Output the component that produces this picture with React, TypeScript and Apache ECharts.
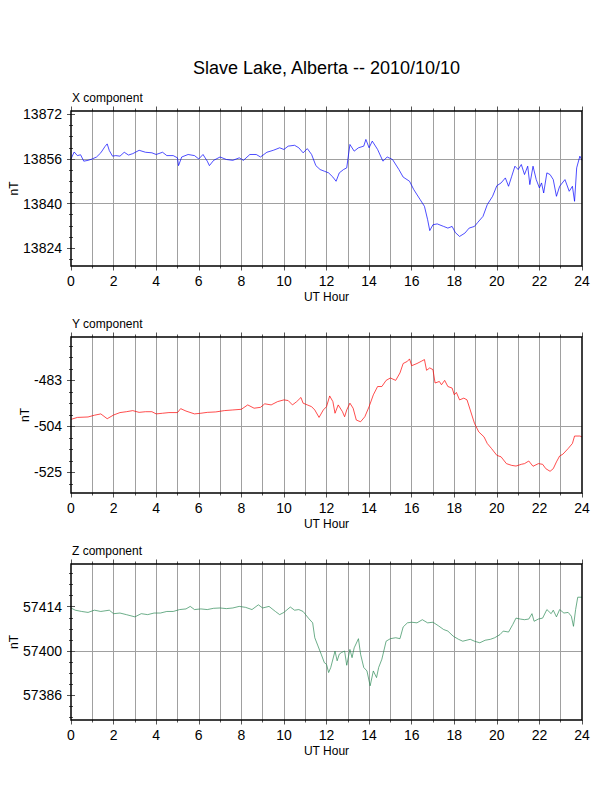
import React, { useEffect, useRef } from 'react';
import * as echarts from 'echarts';

const FONT = "'Liberation Sans', Arial, Helvetica, sans-serif";

// ---- X component (nT) ----
const xHours = [0, 0.15, 0.3, 0.45, 0.6, 0.8, 1.0, 1.2, 1.4, 1.6, 1.7, 1.8, 1.95, 2.1, 2.3, 2.5, 2.7, 2.9, 3.2, 3.5, 3.8, 4.0, 4.3, 4.5, 4.8, 5.0, 5.05, 5.2, 5.5, 5.8, 6.0, 6.2, 6.4, 6.5, 6.7, 7.0, 7.3, 7.6, 7.9, 8.1, 8.4, 8.7, 8.9, 9.2, 9.5, 9.8, 10.0, 10.2, 10.5, 10.7, 10.9, 11.1, 11.3, 11.5, 11.7, 11.9, 12.1, 12.3, 12.45, 12.6, 12.8, 12.95, 13.1, 13.3, 13.5, 13.75, 13.85, 14.0, 14.15, 14.4, 14.65, 14.85, 15.1, 15.4, 15.6, 15.9, 16.1, 16.4, 16.6, 16.75, 16.85, 17.0, 17.2, 17.5, 17.7, 17.9, 18.05, 18.25, 18.5, 18.7, 18.95, 19.1, 19.35, 19.55, 19.8, 20.0, 20.2, 20.4, 20.55, 20.7, 20.85, 21.0, 21.15, 21.3, 21.45, 21.55, 21.7, 21.85, 22.0, 22.1, 22.2, 22.35, 22.5, 22.65, 22.8, 22.95, 23.2, 23.4, 23.55, 23.65, 23.75, 23.9, 24];
const xValues = [13856, 13858.5, 13857.2, 13857.5, 13855.2, 13855.5, 13856, 13856.7, 13858.2, 13860.5, 13861.4, 13859, 13857, 13857.2, 13857, 13858.4, 13857.4, 13857.9, 13859.1, 13858.4, 13858.2, 13857.6, 13858.4, 13857.2, 13857.2, 13856.4, 13853.6, 13856.7, 13857.6, 13857.2, 13856, 13857.6, 13855.2, 13853.6, 13855.5, 13856.7, 13855.8, 13855.5, 13856.4, 13855.5, 13857.6, 13857.6, 13856.7, 13858.4, 13859.1, 13860, 13859.4, 13860.6, 13860.9, 13860, 13858.2, 13859.7, 13857.6, 13853.6, 13852.2, 13851.6, 13851, 13849.5, 13848, 13851, 13852.2, 13852.8, 13861.2, 13858.8, 13860, 13860.6, 13863, 13860, 13862.4, 13859.4, 13855.2, 13856.7, 13855.8, 13852.2, 13849.5, 13848, 13845, 13841.4, 13839, 13834.2, 13830.3, 13832.4, 13832.7, 13831.8, 13831.2, 13831.8, 13829.6, 13828.2, 13829.4, 13831.2, 13831.8, 13833.2, 13835.4, 13839.6, 13842.6, 13846.4, 13847.4, 13849.2, 13846.2, 13849.8, 13853.4, 13852.2, 13854, 13850.4, 13853.4, 13846.8, 13853.4, 13848.6, 13845.6, 13847.4, 13843.8, 13851, 13850.4, 13848.6, 13842.6, 13846.2, 13848.6, 13844.4, 13846.2, 13840.8, 13852.8, 13857, 13855.5];

// ---- Y component (nT) ----
const yHours = [0, 0.3, 0.8, 1.1, 1.4, 1.7, 2.0, 2.3, 2.6, 2.9, 3.2, 3.5, 3.8, 4.0, 4.3, 4.6, 5.0, 5.15, 5.4, 5.8, 6.1, 6.4, 6.8, 7.2, 7.6, 8.0, 8.3, 8.6, 8.9, 9.1, 9.4, 9.7, 10.0, 10.2, 10.4, 10.6, 10.8, 10.9, 11.1, 11.3, 11.45, 11.65, 11.85, 12.0, 12.15, 12.3, 12.4, 12.55, 12.75, 12.85, 12.95, 13.1, 13.25, 13.4, 13.6, 13.8, 14.0, 14.2, 14.4, 14.6, 14.8, 15.0, 15.25, 15.45, 15.6, 15.8, 15.9, 16.0, 16.25, 16.45, 16.6, 16.7, 16.85, 17.0, 17.1, 17.3, 17.4, 17.55, 17.7, 17.9, 18.0, 18.1, 18.25, 18.45, 18.6, 18.75, 18.95, 19.15, 19.4, 19.55, 19.75, 20.0, 20.2, 20.45, 20.7, 20.9, 21.15, 21.3, 21.5, 21.7, 21.95, 22.15, 22.3, 22.5, 22.65, 22.8, 22.95, 23.1, 23.35, 23.55, 23.65, 23.9, 24];
const yValues = [-500.8, -499.9, -499.7, -498.9, -498.3, -500.5, -498.8, -497.7, -497.3, -496.8, -497.6, -497.3, -497.3, -498.3, -498, -497.7, -497.7, -495.9, -497, -498.3, -498, -497.6, -497.4, -496.8, -496.5, -496.2, -494.2, -495.7, -495.3, -493.7, -494.2, -492.7, -491.9, -492.2, -494.2, -492.7, -490.8, -493.4, -494.2, -495, -496.5, -499.9, -496.5, -495, -490.1, -492.7, -498, -494.2, -497.3, -499.6, -496.5, -493.4, -495.7, -501.1, -501.9, -499.6, -495, -489.6, -485.8, -485.8, -483, -481.9, -483, -479.6, -475.3, -474.3, -473.2, -476.3, -475.3, -474.3, -473.5, -478.4, -477.3, -478.1, -484.2, -483.5, -485, -483, -485.8, -486.5, -489.6, -488.5, -491.9, -491.1, -491.9, -496.5, -502.6, -506.5, -508.8, -511.8, -514.1, -517.2, -517.9, -521, -521.8, -522.1, -521.3, -521, -519.8, -522.2, -521, -521.3, -523.3, -524.5, -523.3, -520.2, -517.5, -516.7, -514.1, -511.8, -508.4, -508.4, -508.8];

// ---- Z component (nT) ----
const zHours = [0, 0.2, 0.5, 0.8, 1.1, 1.4, 1.8, 2.0, 2.3, 2.6, 3.0, 3.3, 3.6, 3.9, 4.2, 4.5, 4.8, 5.1, 5.4, 5.6, 5.8, 6.1, 6.4, 6.7, 7.0, 7.3, 7.6, 7.9, 8.2, 8.5, 8.8, 9.0, 9.3, 9.6, 9.8, 10.0, 10.3, 10.5, 10.7, 10.9, 11.15, 11.35, 11.45, 11.6, 11.75, 11.9, 12.0, 12.1, 12.2, 12.4, 12.5, 12.6, 12.7, 12.85, 12.95, 13.1, 13.2, 13.3, 13.5, 13.6, 13.75, 13.9, 14.05, 14.2, 14.35, 14.45, 14.6, 14.8, 15.0, 15.25, 15.45, 15.6, 15.8, 16.0, 16.25, 16.5, 16.75, 17.0, 17.25, 17.5, 17.7, 17.95, 18.2, 18.4, 18.75, 18.95, 19.2, 19.45, 19.7, 19.9, 20.15, 20.3, 20.55, 20.75, 20.9, 21.1, 21.3, 21.5, 21.65, 21.75, 21.95, 22.15, 22.35, 22.55, 22.65, 22.8, 22.95, 23.15, 23.35, 23.5, 23.6, 23.7, 23.8, 24.0];
const zValues = [57413.6, 57412.9, 57412.5, 57412.2, 57412.9, 57412.5, 57412.9, 57411.8, 57412, 57411.5, 57410.8, 57411.8, 57411.5, 57412, 57412, 57412.5, 57412.5, 57413.1, 57413.3, 57414.1, 57413.1, 57413.3, 57413.1, 57413.5, 57413.6, 57413.4, 57413.6, 57414.1, 57413.8, 57413.1, 57414.6, 57413.6, 57414.1, 57412.5, 57411.5, 57412.2, 57413.9, 57412.9, 57413.1, 57412.5, 57410.4, 57408.9, 57404.2, 57401.6, 57399, 57396.3, 57395.8, 57393.2, 57394.8, 57400, 57396.9, 57399, 57399.5, 57400, 57395.5, 57400.5, 57397.9, 57401, 57403.9, 57399, 57394.8, 57393.7, 57389, 57393.7, 57391.6, 57394.8, 57397.4, 57403.1, 57403.9, 57404.2, 57403.9, 57407.6, 57408.9, 57409.1, 57408.9, 57409.9, 57408.9, 57409.1, 57408, 57406.8, 57406.3, 57404.7, 57403.7, 57403.1, 57403.7, 57403.1, 57402.6, 57403.4, 57403.7, 57404.2, 57405.2, 57406.3, 57406, 57408.4, 57410.4, 57410.1, 57409.9, 57410.1, 57411.8, 57409.4, 57410.1, 57410.4, 57413.1, 57411.8, 57412.9, 57410.8, 57413.1, 57412, 57412.2, 57411, 57407.8, 57413.1, 57417, 57417];

// ---- axis ticks ----
const xMajorTicks = [13824, 13840, 13856, 13872];
const xMinorTicks = [13820, 13824, 13828, 13832, 13836, 13840, 13844, 13848, 13852, 13856, 13860, 13864, 13868, 13872];
const yMajorTicks = [-525, -504, -483];
const yMinorTicks = [-530.25, -525, -519.75, -514.5, -509.25, -504, -498.75, -493.5, -488.25, -483, -477.75, -472.5, -467.25];
const zMajorTicks = [57386, 57400, 57414];
const zMinorTicks = [57379, 57382.5, 57386, 57389.5, 57393, 57396.5, 57400, 57403.5, 57407, 57410.5, 57414, 57417.5, 57421, 57424.5];
const xRange = [13817.6, 13873.2];
const yRange = [-534.4, -463.2];
const zRange = [57378.2, 57427.5];

const titleText = 'Slave Lake, Alberta -- 2010/10/10';
const panelNames = ['X component', 'Y component', 'Z component'];
const colors = ['#0000ff', '#ff0000', '#2e8b57'];

// layout (pixels)
const GL = 71;
const GW = 511;
const panelTops = [111, 337, 564];
const panelHeights = [155, 156, 156];
const nTx = [14, 25, 14];

const TICK_COLOR = '#555';
const GRID_COLOR = '#a0a0a0';

const plain = (v: number) => String(v);

function makeXAxes(gridIndex: number) {
  const base: any = { type: 'value', gridIndex, min: 0, max: 24, axisLine: { show: false } };
  return [
    {
      ...base, position: 'bottom', interval: 2,
      axisTick: { show: true, length: 4.5, lineStyle: { color: TICK_COLOR, width: 1 } },
      axisLabel: { show: true, fontSize: 14, margin: 8, color: '#000', fontFamily: FONT, formatter: plain },
      splitLine: { show: false },
    },
    {
      ...base, position: 'bottom', interval: 1,
      axisTick: { show: true, length: 2.5, lineStyle: { color: TICK_COLOR, width: 1 } },
      axisLabel: { show: false },
      splitLine: { show: true, showMinLine: false, showMaxLine: false, lineStyle: { color: GRID_COLOR, width: 1 } },
    },
    {
      ...base, position: 'top', interval: 2,
      axisTick: { show: true, length: 4.5, lineStyle: { color: TICK_COLOR, width: 1 } },
      axisLabel: { show: false }, splitLine: { show: false },
    },
    {
      ...base, position: 'top', interval: 1,
      axisTick: { show: true, length: 2.5, lineStyle: { color: TICK_COLOR, width: 1 } },
      axisLabel: { show: false }, splitLine: { show: false },
    },
  ];
}

function makeYAxes(gridIndex: number, range: number[], majors: number[], minors: number[]) {
  const base: any = { type: 'value', gridIndex, min: range[0], max: range[1], axisLine: { show: false } };
  return [
    {
      ...base, position: 'left',
      axisTick: { show: true, customValues: majors, length: 4, lineStyle: { color: TICK_COLOR, width: 1 } },
      axisLabel: { show: true, customValues: majors, fontSize: 14, margin: 9, color: '#000', fontFamily: FONT, formatter: plain },
      splitLine: { show: true, showMinLine: false, showMaxLine: false, lineStyle: { color: GRID_COLOR, width: 1 } },
    },
    {
      ...base, position: 'left',
      axisTick: { show: true, customValues: minors, length: 2, lineStyle: { color: TICK_COLOR, width: 1 } },
      axisLabel: { show: false }, splitLine: { show: false },
    },
    {
      ...base, position: 'right',
      axisTick: { show: true, customValues: majors, length: 4, lineStyle: { color: TICK_COLOR, width: 1 } },
      axisLabel: { show: false }, splitLine: { show: false },
    },
    {
      ...base, position: 'right',
      axisTick: { show: true, customValues: minors, length: 2, lineStyle: { color: TICK_COLOR, width: 1 } },
      axisLabel: { show: false }, splitLine: { show: false },
    },
  ];
}

export default function App() {
  const ref = useRef<HTMLDivElement>(null);
  useEffect(() => {
    if (!ref.current) return;
    const chart = echarts.init(ref.current, undefined, { renderer: 'svg' });
    const ranges = [xRange, yRange, zRange];
    const majors = [xMajorTicks, yMajorTicks, zMajorTicks];
    const minors = [xMinorTicks, yMinorTicks, zMinorTicks];
    const hours = [xHours, yHours, zHours];
    const values = [xValues, yValues, zValues];

    const grids = panelTops.map((t, i) => ({ left: GL, top: t, width: GW, height: panelHeights[i], show: false }));
    const xAxis: any[] = [];
    const yAxis: any[] = [];
    for (let i = 0; i < 3; i++) {
      xAxis.push(...makeXAxes(i));
      yAxis.push(...makeYAxes(i, ranges[i], majors[i], minors[i]));
    }
    const series = [0, 1, 2].map((i) => ({
      type: 'line',
      xAxisIndex: i * 4,
      yAxisIndex: i * 4,
      data: hours[i].map((h, k) => [h, values[i][k]]),
      showSymbol: false,
      symbol: 'none',
      lineStyle: { color: colors[i], width: 0.7 },
      silent: true,
      z: 3,
    }));

    const graphics: any[] = [
      {
        type: 'text', x: GL + GW / 2, y: 68, z: 100,
        style: { text: titleText, fontSize: 18, fontFamily: FONT, fill: '#000', textAlign: 'center', textVerticalAlign: 'middle' },
      },
    ];
    panelTops.forEach((t, i) => {
      const h = panelHeights[i];
      graphics.push({
        type: 'rect', z: 100, shape: { x: GL, y: t, width: GW, height: h },
        style: { fill: 'none', stroke: '#000', lineWidth: 1.5 },
      });
      graphics.push({
        type: 'text', x: GL + 1, y: t - 13, z: 100,
        style: { text: panelNames[i], fontSize: 12, fontFamily: FONT, fill: '#000', textAlign: 'left', textVerticalAlign: 'middle' },
      });
      graphics.push({
        type: 'text', x: nTx[i], y: t + h / 2, rotation: Math.PI / 2, z: 100,
        style: { text: 'nT', fontSize: 12, fontFamily: FONT, fill: '#000', textAlign: 'center', textVerticalAlign: 'middle' },
      });
      graphics.push({
        type: 'text', x: GL + GW / 2, y: t + h + 31, z: 100,
        style: { text: 'UT Hour', fontSize: 12, fontFamily: FONT, fill: '#000', textAlign: 'center', textVerticalAlign: 'middle' },
      });
    });

    chart.setOption({
      animation: false,
      backgroundColor: '#fff',
      grid: grids,
      xAxis,
      yAxis,
      series,
      graphic: graphics,
    });
    return () => chart.dispose();
  }, []);
  return <div ref={ref} style={{ position: 'absolute', left: 0, top: 0, width: 612, height: 792 }} />;
}
